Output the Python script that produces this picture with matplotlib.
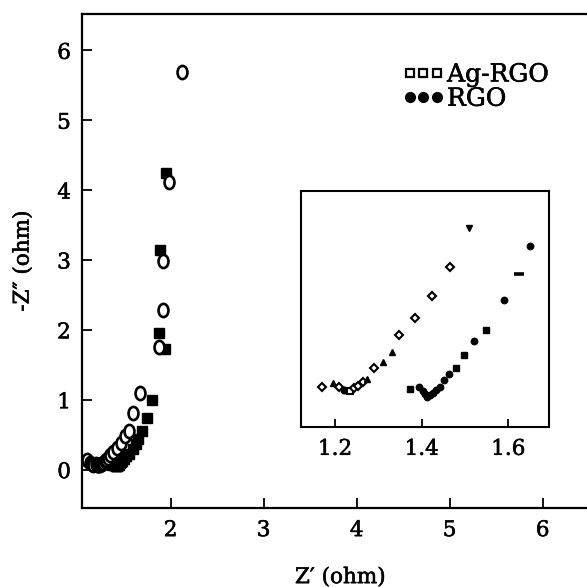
import matplotlib
matplotlib.use("Agg")
import matplotlib.pyplot as plt
import matplotlib.patheffects as pe
from matplotlib.markers import MarkerStyle
from matplotlib.transforms import Affine2D
from matplotlib.lines import Line2D

# ---------------- data ----------------
# Ag-RGO, low-Z region (shown in inset and main plot)
ag_low_x = [1.169, 1.195, 1.210, 1.221, 1.235, 1.244, 1.254, 1.264, 1.275, 1.290,
            1.310, 1.331, 1.349, 1.384, 1.425, 1.465, 1.510]
ag_low_y = [0.069, 0.081, 0.069, 0.062, 0.060, 0.066, 0.073, 0.082, 0.090, 0.118,
            0.135, 0.161, 0.204, 0.248, 0.304, 0.381, 0.481]
ag_low_mk = ['D', '^', 'D', 'o', 's', 'D', 'D', 'D', '^', 'D',
             '^', '^', 'D', 'D', 'D', 'D', 'v']
# Ag-RGO, additional points in main plot
ag_hf_x = [1.10, 1.13, 1.15]
ag_hf_y = [0.13, 0.10, 0.08]
ag_hi_x = [1.555, 1.598, 1.670, 1.877, 1.920, 1.920, 1.985, 2.118]
ag_hi_y = [0.55, 0.81, 1.10, 1.76, 2.29, 2.99, 4.12, 5.69]

# RGO, low-Z region
rgo_low_x = [1.373, 1.395, 1.403, 1.408, 1.413, 1.419, 1.426, 1.433, 1.443, 1.452,
             1.463, 1.479, 1.498, 1.521, 1.549, 1.591, 1.624, 1.650]
rgo_low_y = [0.064, 0.070, 0.060, 0.051, 0.045, 0.049, 0.055, 0.062, 0.070, 0.088,
             0.104, 0.120, 0.153, 0.188, 0.218, 0.294, 0.361, 0.435]
rgo_low_mk = ['s', 'o', 'o', 'o', 'o', 'o', 'o', 'o', 'o', 'o',
              'o', 's', 's', 'o', 's', 'o', '_', 'o']
# RGO, additional points in main plot
rgo_hi_x = [1.688, 1.742, 1.796, 1.874, 1.935, 1.890, 1.949]
rgo_hi_y = [0.55, 0.74, 1.00, 1.96, 1.72, 3.14, 4.25]

x_ticks = [2, 3, 4, 5, 6]
y_ticks = [0, 1, 2, 3, 4, 5, 6]
inset_ticks = [1.2, 1.4, 1.6]

FONT = "DejaVu Serif"
plt.rcParams['font.family'] = [FONT, 'DejaVu Sans']
thick = [pe.withStroke(linewidth=0.4, foreground='black')]

fig = plt.figure(figsize=(5.87, 5.87), dpi=100)
W = H = 587.0
ax = fig.add_axes([82 / W, (H - 508) / H, (H - 82) / W + 0.02, (508 - 14) / H])

ell = MarkerStyle('o', transform=Affine2D().scale(0.75, 1.0))

ag_x = ag_hf_x + ag_low_x + ag_hi_x
ag_y = ag_hf_y + ag_low_y + ag_hi_y
rgo_x = rgo_low_x + rgo_hi_x
rgo_y = rgo_low_y + rgo_hi_y

ax.plot(rgo_x, rgo_y, linestyle='none', marker='s', markersize=7,
        color='black', zorder=2)
ax.plot(ag_x, ag_y, linestyle='none', marker=ell, markersize=9.5,
        markerfacecolor='white', markeredgecolor='black', markeredgewidth=1.9, zorder=3)

ax.set_xlim(1.047, 1.047 + (H - 82) / 93.0 + 0.02 * W / 93.0)
ax.set_ylim(-0.55, 6.52)
ax.set_xticks(x_ticks)
ax.set_yticks(y_ticks)
ax.tick_params(direction='in', length=7, width=1.3, labelsize=15.5, pad=8)
for s in ['left', 'bottom', 'top']:
    ax.spines[s].set_linewidth(1.6)
ax.spines['right'].set_visible(False)
ax.set_xlabel("Z\u2032 (ohm)", fontsize=15.5, labelpad=18)
ax.set_ylabel("-Z\u2033 (ohm)", fontsize=15.5, labelpad=17)

handles = [Line2D([], [], linestyle='none', marker='s', markersize=5.5,
                  markerfacecolor='white', markeredgecolor='black', markeredgewidth=1.6),
           Line2D([], [], linestyle='none', marker='o', markersize=7, color='black')]
leg = ax.legend(handles, ["Ag-RGO", "RGO"], loc='upper left', bbox_to_anchor=(0.6, 0.92),
                frameon=False, numpoints=3, handlelength=1.7, handletextpad=0.1,
                labelspacing=0.05, fontsize=18, borderaxespad=0.0)

# ---------------- inset ----------------
ins = fig.add_axes([301 / W, (H - 426.7) / H, 248.3 / W, 235.7 / H])
for x, y, m in zip(ag_low_x, ag_low_y, ag_low_mk):
    if m in ('D', 's'):
        ins.plot([x], [y], linestyle='none', marker=m, markersize=4.0,
                 markerfacecolor='white', markeredgecolor='black', markeredgewidth=1.5)
    else:
        ins.plot([x], [y], linestyle='none', marker=m, markersize=4.8, color='black')
for x, y, m in zip(rgo_low_x, rgo_low_y, rgo_low_mk):
    ins.plot([x], [y], linestyle='none', marker=m, markersize=4.6 if m != '_' else 7,
             color='black', markeredgewidth=2.6 if m == '_' else 1.0)
ins.set_xlim(1.1215, 1.695)
ins.set_ylim(-0.033, 0.577)
ins.set_xticks(inset_ticks)
ins.set_xticklabels([f"{t:.1f}" for t in inset_ticks])
ins.set_yticks([])
ins.tick_params(axis='x', direction='in', length=6, width=1.3, labelsize=15.5, pad=8)
for s in ins.spines.values():
    s.set_linewidth(1.5)

texts = (ax.get_xticklabels() + ax.get_yticklabels() + ins.get_xticklabels()
         + [ax.xaxis.label, ax.yaxis.label] + leg.get_texts())
for t in texts:
    t.set_path_effects(thick)

fig.savefig("out.png", dpi=100)
